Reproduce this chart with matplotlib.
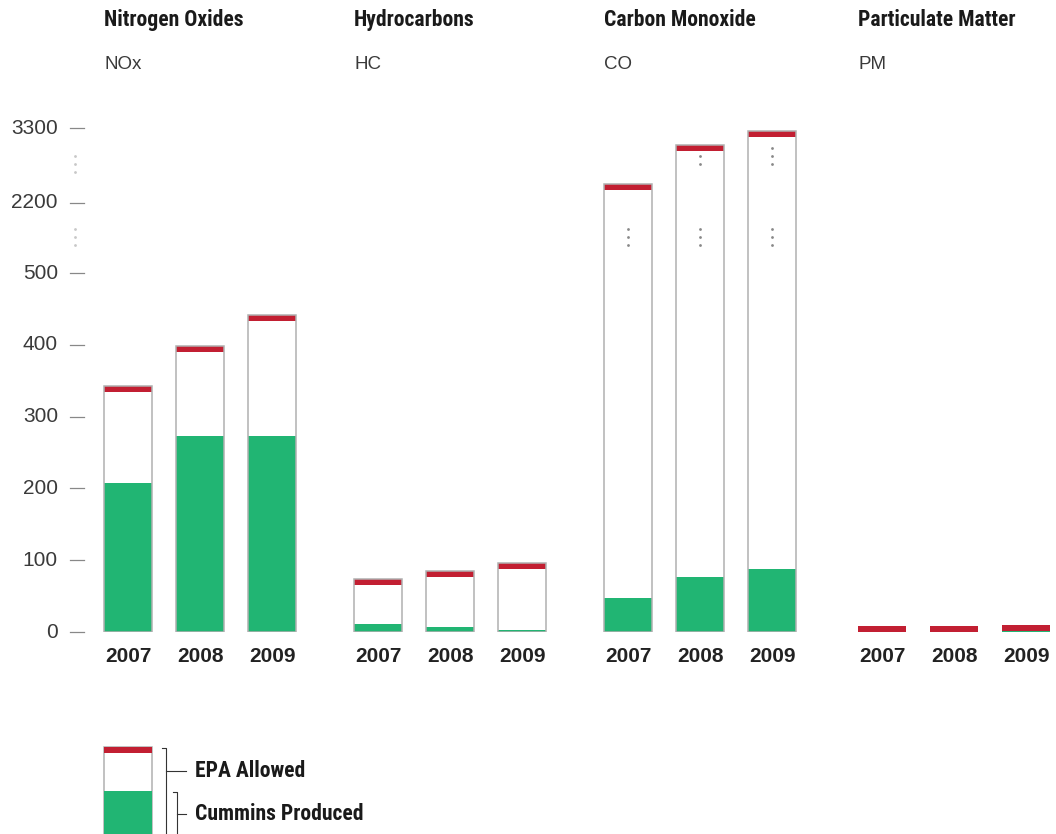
import numpy as np
import matplotlib.pyplot as plt

# data
groups = ['Nitrogen Oxides', 'Hydrocarbons', 'Carbon Monoxide', 'Particulate Matter']
short = ['NOx', 'HC', 'CO', 'PM']
years = ['2007', '2008', '2009']
epa_allowed = [[343, 399, 442],
               [74, 85, 96],
               [2475, 3046, 3258],
               [8, 8, 9]]
cummins_produced = [[208, 273, 273],
                    [11, 7, 3],
                    [47, 77, 88],
                    [0, 0, 1]]
ytick_vals = [0, 100, 200, 300, 400, 500, 2200, 3300]

RED = '#c21f32'
GREEN = '#21b573'
EDGE = '#b0b0b0'
TXT = '#3a3a3a'

# broken axis: 0-500 linear, then compressed segments
def fwd(v):
    v = np.asarray(v, float)
    return np.where(v < 500, v,
                    np.where(v < 2200, 500 + (v - 500) * 98 / 1700,
                             598 + (v - 2200) * 104 / 1100))

def inv(s):
    s = np.asarray(s, float)
    return np.where(s < 500, s,
                    np.where(s < 598, 500 + (s - 500) * 1700 / 98,
                             2200 + (s - 598) * 1100 / 104))

fig = plt.figure(figsize=(10.56, 8.34), dpi=100)
W, H = 1056, 834
y0px, ytop = 632, 128
ax = fig.add_axes([0, (H - y0px) / H, 1, (y0px - ytop) / H])
ax.set_yscale('function', functions=(fwd, inv))
ax.set_xlim(0, W)
ax.set_ylim(0, 3300)
ax.axis('off')

lax = fig.add_axes([0, 0, 1, 1], zorder=-1)
lax.set_xlim(0, W)
lax.set_ylim(H, 0)
lax.axis('off')

hfont = dict(family='Roboto Condensed', fontweight='bold',
             fontsize=15.6, color='#1a1a1a')

starts = [104, 354, 604, 858]
step = 72
bw = 48
strip = 8.4  # red cap thickness in scaled units

def red_strip(x, top):
    bot = max(float(inv(fwd(top) - strip)), 0)
    ax.bar(x, top - bot, bottom=bot, width=bw, align='edge', color=RED,
           lw=0, zorder=4)

for g in range(4):
    for i in range(3):
        x = starts[g] + i * step
        a = epa_allowed[g][i]
        p = cummins_produced[g][i]
        if g < 3:
            ax.bar(x, a, width=bw, align='edge', color='white', lw=0, zorder=1)
            ax.bar(x, p, width=bw, align='edge', color=GREEN, lw=0, zorder=2)
            ax.bar(x, a, width=bw, align='edge', fill=False, edgecolor=EDGE,
                   lw=1.1, zorder=5)
        else:
            ax.bar(x, p, width=bw, align='edge', color=GREEN, lw=0, zorder=2)
            a = a + p
        red_strip(x, a)
        # break marks inside the tall bars
        if a > 500:
            cx = x + bw / 2
            ax.plot([cx] * 3, inv(np.array([539, 550, 561])), ls='none',
                    marker='o', ms=2, mec='none', mfc='#888888', zorder=3)
            if a > 2700:
                ax.plot([cx] * 3, inv(np.array([652, 663, 674])), ls='none',
                        marker='o', ms=2, mec='none', mfc='#888888', zorder=3)
        lax.text(x + bw / 2, 657, years[i], ha='center', va='center',
                 fontsize=15, fontweight='bold', family='Liberation Sans',
                 color='#222222')
    lax.text(starts[g], 20, groups[g], ha='left', va='center', **hfont)
    lax.text(starts[g], 64, short[g], ha='left', va='center', fontsize=13.5,
             family='Liberation Sans', color=TXT)

# y axis ticks and labels
for v in ytick_vals:
    ax.plot([70, 84], [v, v], color='#888888', lw=0.9, clip_on=False)
    ax.text(58, v, str(v), ha='right', va='center', fontsize=15,
            family='Liberation Sans', color=TXT, clip_on=False)
for c in (550, 652):
    ax.plot([75] * 3, inv(np.array([c - 11, c, c + 11])), ls='none',
            marker='o', ms=2, mec='none', mfc='#c8c8c8', clip_on=False)

# legend swatch and brackets
lax.add_patch(plt.Rectangle((104, 747), bw, 100, facecolor='white',
                            edgecolor=EDGE, lw=1.1))
lax.add_patch(plt.Rectangle((104, 791), bw, 60, facecolor=GREEN, lw=0))
lax.add_patch(plt.Rectangle((104, 747), bw, 6, facecolor=RED, lw=0))
lax.plot([162, 166, 166], [748, 748, 840], color='#333333', lw=0.8)
lax.plot([166, 186], [771, 771], color='#333333', lw=0.8)
lax.plot([173, 177, 177], [792, 792, 840], color='#333333', lw=0.8)
lax.plot([177, 186], [814, 814], color='#333333', lw=0.8)
lax.text(195, 771, 'EPA Allowed', ha='left', va='center', **hfont)
lax.text(195, 814, 'Cummins Produced', ha='left', va='center', **hfont)

fig.savefig('out.png', dpi=100)
